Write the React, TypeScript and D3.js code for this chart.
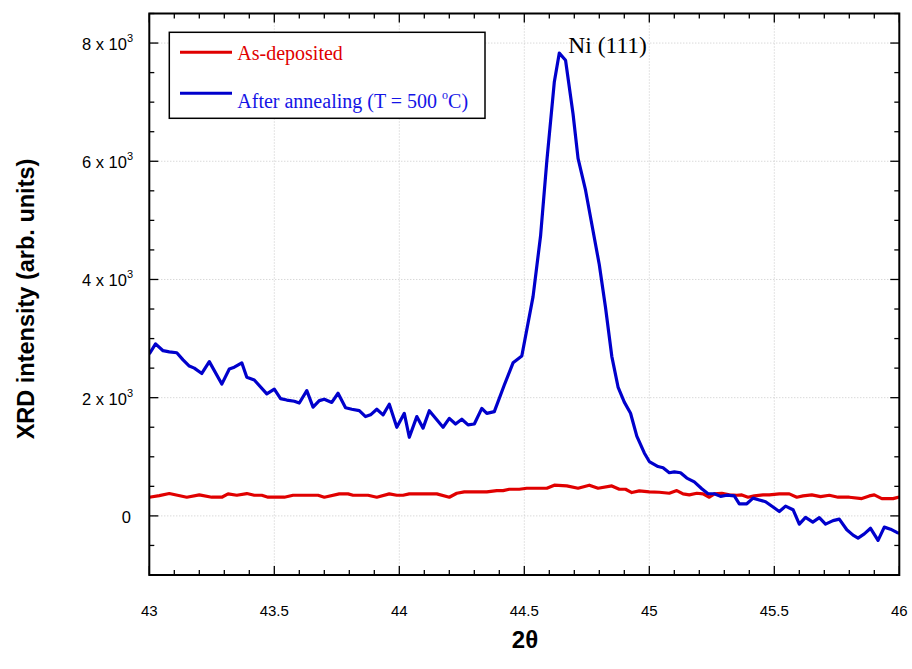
import * as d3 from 'd3';

// 2θ (deg) and intensity
const annealed: [number, number][] = [
  [43.0, 2740], [43.025, 2910], [43.055, 2795], [43.08, 2775], [43.11, 2760], [43.135, 2640],
  [43.16, 2535], [43.18, 2500], [43.21, 2410], [43.24, 2610], [43.29, 2230], [43.32, 2485],
  [43.34, 2515], [43.37, 2590], [43.39, 2345], [43.42, 2300], [43.47, 2065], [43.5, 2145],
  [43.525, 1985], [43.55, 1960], [43.58, 1940], [43.6, 1910], [43.63, 2120], [43.655, 1840],
  [43.68, 1950], [43.7, 1975], [43.73, 1920], [43.755, 2075], [43.785, 1830], [43.81, 1805],
  [43.84, 1780], [43.865, 1680], [43.885, 1710], [43.91, 1805], [43.935, 1710], [43.96, 1890],
  [43.99, 1500], [44.02, 1735], [44.04, 1330], [44.07, 1680], [44.095, 1485], [44.12, 1780],
  [44.15, 1625], [44.175, 1500], [44.2, 1650], [44.225, 1555], [44.25, 1635], [44.275, 1540],
  [44.3, 1555], [44.33, 1820], [44.35, 1735], [44.38, 1765], [44.42, 2215], [44.455, 2590],
  [44.49, 2705], [44.535, 3710], [44.565, 4735], [44.59, 6000], [44.62, 7340], [44.64, 7830],
  [44.665, 7710], [44.695, 6800], [44.715, 6050], [44.745, 5510], [44.8, 4250], [44.825, 3520],
  [44.85, 2700], [44.875, 2180], [44.9, 1925], [44.925, 1736], [44.95, 1350], [44.98, 1065],
  [45.0, 920], [45.035, 835], [45.055, 815], [45.08, 730], [45.1, 745], [45.125, 730],
  [45.15, 640], [45.18, 575], [45.21, 460], [45.235, 375], [45.26, 375], [45.285, 330],
  [45.31, 350], [45.34, 340], [45.36, 205], [45.39, 205], [45.415, 300], [45.44, 270],
  [45.465, 240], [45.495, 150], [45.52, 73], [45.545, 165], [45.575, 105], [45.6, -140],
  [45.625, -25], [45.654, -105], [45.68, -30], [45.705, -140], [45.735, -80], [45.76, -55],
  [45.79, -235], [45.815, -325], [45.835, -375], [45.86, -305], [45.885, -210], [45.915, -415],
  [45.94, -190], [45.965, -225], [45.99, -280], [46.0, -295],
];

const asDeposited: [number, number][] = [
  [43.0, 316], [43.04, 344], [43.08, 378], [43.15, 316], [43.2, 355], [43.25, 316],
  [43.29, 316], [43.315, 372], [43.35, 349], [43.39, 378], [43.42, 349], [43.45, 349],
  [43.475, 316], [43.54, 316], [43.575, 349], [43.675, 349], [43.7, 316], [43.76, 372],
  [43.795, 372], [43.815, 349], [43.875, 349], [43.91, 316], [43.96, 372], [43.99, 349],
  [44.015, 349], [44.04, 372], [44.15, 372], [44.2, 316], [44.23, 383], [44.26, 406],
  [44.35, 406], [44.39, 428], [44.415, 428], [44.44, 451], [44.48, 451], [44.51, 468],
  [44.59, 468], [44.62, 519], [44.67, 507], [44.715, 468], [44.76, 519], [44.795, 468],
  [44.85, 507], [44.88, 451], [44.905, 451], [44.93, 395], [44.96, 423], [45.0, 406],
  [45.04, 400], [45.08, 383], [45.11, 428], [45.135, 372], [45.16, 355], [45.19, 383],
  [45.215, 372], [45.24, 316], [45.26, 372], [45.29, 383], [45.32, 355], [45.35, 349],
  [45.37, 355], [45.395, 316], [45.42, 338], [45.455, 355], [45.48, 355], [45.52, 372],
  [45.56, 372], [45.59, 316], [45.615, 338], [45.65, 355], [45.685, 326], [45.72, 349],
  [45.755, 316], [45.8, 316], [45.85, 293], [45.88, 338], [45.9, 355], [45.93, 293],
  [45.975, 293], [46.0, 320],
];

const xMajor = [43, 43.5, 44, 44.5, 45, 45.5, 46];
const xLabels = ['43', '43.5', '44', '44.5', '45', '45.5', '46'];
const yMajor = [0, 2000, 4000, 6000, 8000];
const yMantissa = ['0', '2', '4', '6', '8'];

const W = 912;
const H = 669;
const left = 149.3, right = 899.3, top = 13.5, bottom = 575;

const RED = '#e00000';
const BLUE = '#0000cc';

export default function App() {
  const x = d3.scaleLinear().domain([43, 46]).range([left, right]);
  const y = d3.scaleLinear().domain([-1000, 8500]).range([bottom, top]);

  const line = d3.line<[number, number]>().x(d => x(d[0])).y(d => y(d[1]));

  const xMinor = x.ticks(30);
  const yMinor = d3.range(-1000, 8501, 500);

  const sans = 'Liberation Sans, Arial, sans-serif';
  const serif = 'Liberation Serif, Times New Roman, serif';

  return (
    <svg width={W} height={H} style={{ position: 'absolute', left: 0, top: 0, background: '#fff' }}>
      <defs>
        <clipPath id="plot">
          <rect x={left} y={top} width={right - left} height={bottom - top} />
        </clipPath>
      </defs>

      {/* dotted grid */}
      <g stroke="#c8c8c8" strokeWidth={1} strokeDasharray="1,2">
        {xMajor.slice(1, -1).map(v => (
          <line key={'gx' + v} x1={x(v)} x2={x(v)} y1={top} y2={bottom} />
        ))}
        {yMajor.map(v => (
          <line key={'gy' + v} x1={left} x2={right} y1={y(v)} y2={y(v)} />
        ))}
      </g>

      <g clipPath="url(#plot)" fill="none" strokeWidth={3.2} strokeLinejoin="round">
        <path d={line(asDeposited) || ''} stroke={RED} />
        <path d={line(annealed) || ''} stroke={BLUE} />
      </g>

      {/* frame + inward ticks */}
      <rect x={left} y={top} width={right - left} height={bottom - top} fill="none" stroke="#000" strokeWidth={2} />
      <g stroke="#000" strokeWidth={1.3}>
        {xMinor.map(v => {
          const len = xMajor.includes(+v.toFixed(1)) ? 9 : 5;
          return (
            <g key={'tx' + v}>
              <line x1={x(v)} x2={x(v)} y1={bottom} y2={bottom - len} />
              <line x1={x(v)} x2={x(v)} y1={top} y2={top + len} />
            </g>
          );
        })}
        {yMinor.map(v => {
          const len = v % 2000 === 0 ? 9 : 5;
          return (
            <g key={'ty' + v}>
              <line x1={left} x2={left + len} y1={y(v)} y2={y(v)} />
              <line x1={right} x2={right - len} y1={y(v)} y2={y(v)} />
            </g>
          );
        })}
      </g>

      {/* tick labels */}
      <g fontFamily={sans} fill="#000">
        {xMajor.map((v, i) => (
          <text key={'lx' + v} x={x(v)} y={616} textAnchor="middle" fontSize={15}>{xLabels[i]}</text>
        ))}
        {yMajor.map((v, i) =>
          v === 0 ? (
            <text key={'ly' + v} x={131} y={y(v) + 7} textAnchor="end" fontSize={16.5}>0</text>
          ) : (
            <text key={'ly' + v} x={133} y={y(v) + 7} textAnchor="end" fontSize={16.5}>
              {yMantissa[i] + ' x 10'}
              <tspan fontSize={11} dy={-8}>3</tspan>
            </text>
          )
        )}
      </g>

      {/* axis titles */}
      <text x={525} y={648} textAnchor="middle" fontFamily={sans} fontWeight="bold" fontSize={24}>2θ</text>
      <text
        transform="translate(34,299) rotate(-90)"
        textAnchor="middle"
        fontFamily={sans}
        fontWeight="bold"
        fontSize={23.5}
      >
        XRD intensity (arb. units)
      </text>

      {/* legend */}
      <rect x={169.3} y={32.3} width={315.7} height={86} fill="#fff" stroke="#000" strokeWidth={1.5} />
      <line x1={180} x2={232} y1={52.3} y2={52.3} stroke={RED} strokeWidth={3} />
      <line x1={180} x2={232} y1={93.3} y2={93.3} stroke={BLUE} strokeWidth={3} />
      <g fontFamily={serif} fontSize={20}>
        <text x={237.3} y={60} fill={RED}>As-deposited</text>
        <text x={237.3} y={107.7} fill="#1414e6">
          After annealing (T = 500 <tspan fontSize={12} dy={-9}>o</tspan>
          <tspan dy={9}>C)</tspan>
        </text>
      </g>

      <text x={568.3} y={53.3} fontFamily={serif} fontSize={23.5} fill="#000">Ni (111)</text>
    </svg>
  );
}
